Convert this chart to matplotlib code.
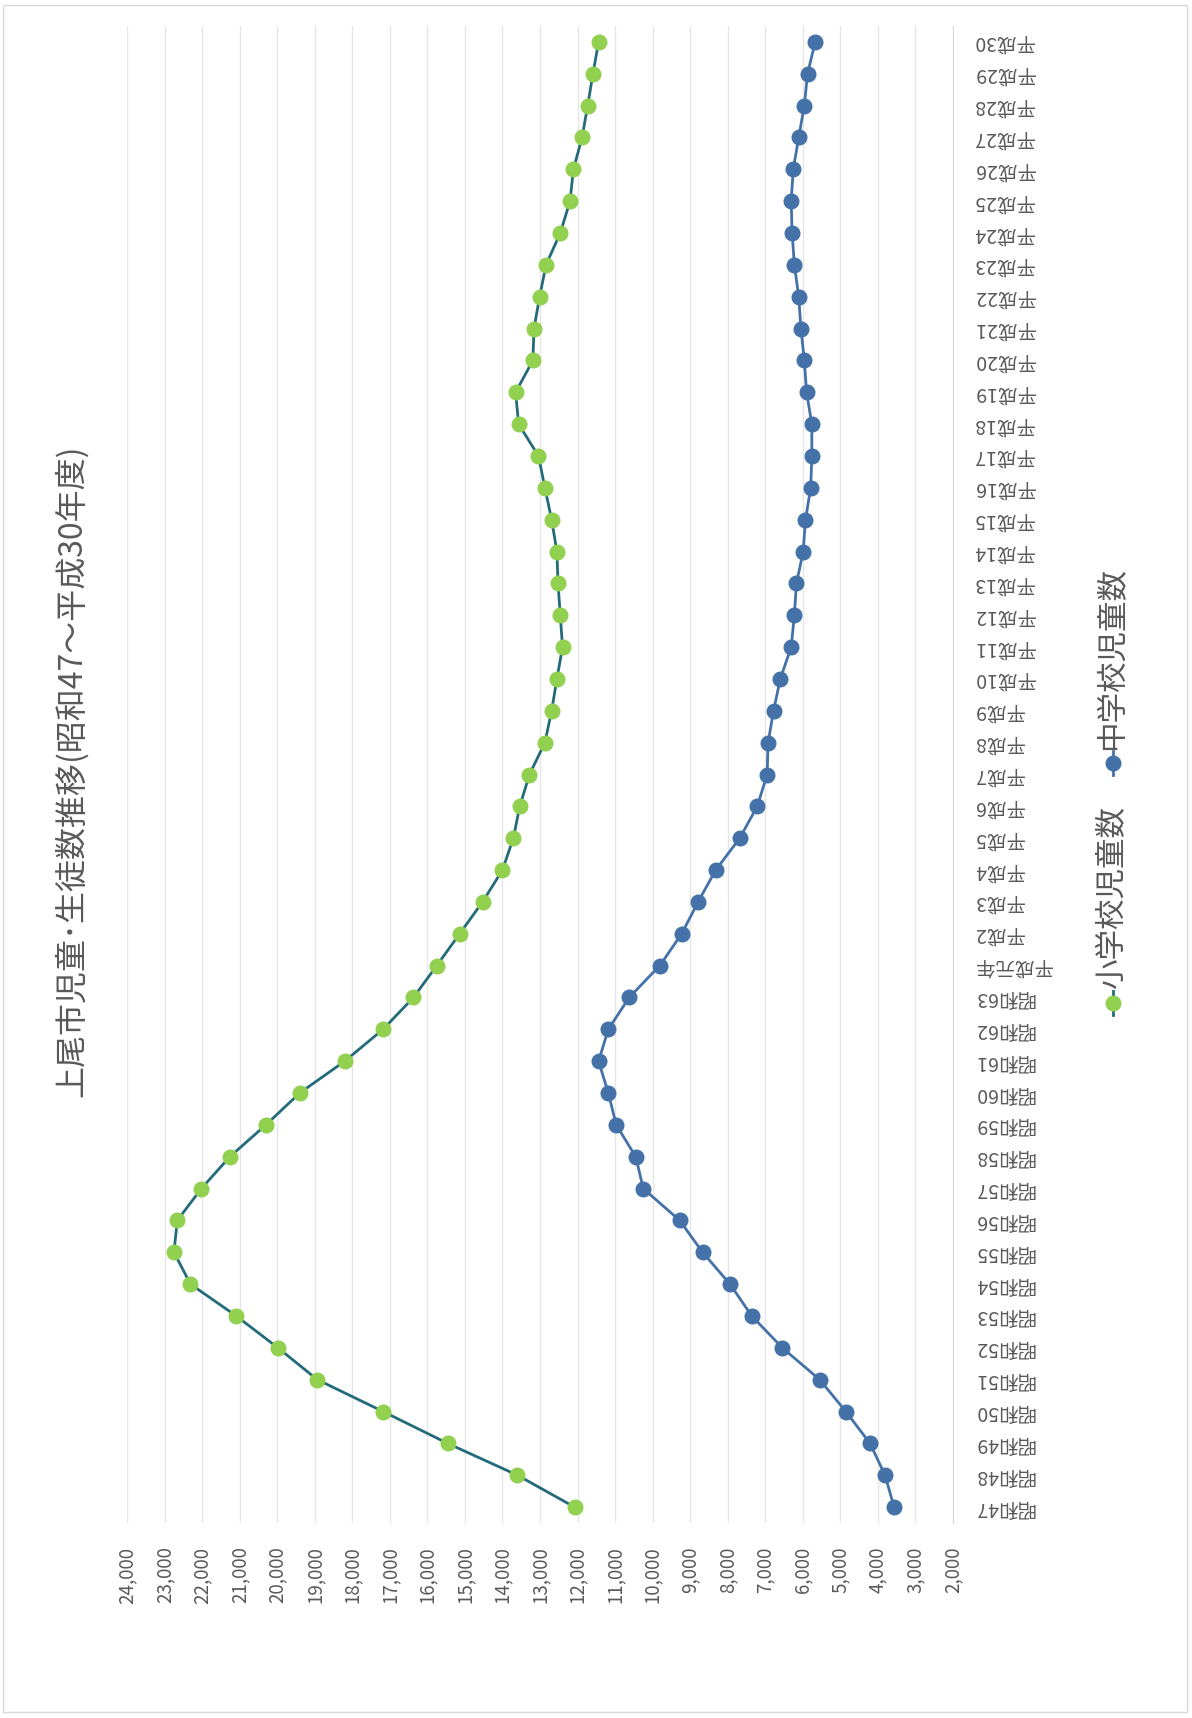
import matplotlib
matplotlib.use("Agg")
import matplotlib.pyplot as plt
from matplotlib.lines import Line2D
from matplotlib.patches import Rectangle
from matplotlib.ticker import FuncFormatter, MultipleLocator

plt.rcParams['font.family'] = ['Noto Sans CJK JP', 'DejaVu Sans']

# 年度
years = ["昭和" + str(n) for n in range(47, 64)] + ["平成元年"] + ["平成" + str(n) for n in range(2, 31)]

# 小学校児童数
elementary = [12080, 13600, 15460, 17180, 18930, 19980, 21090, 22310, 22750, 22660,
              22020, 21260, 20300, 19400, 18200, 17180, 16370,
              15750, 15140, 14530, 14000, 13710, 13540, 13280, 12870, 12690, 12550,
              12400, 12460, 12520, 12550, 12690, 12870, 13040, 13570, 13650, 13190,
              13160, 13010, 12840, 12460, 12200, 12110, 11880, 11730, 11590, 11440]

# 中学校児童数
junior = [3570, 3810, 4210, 4855, 5550, 6545, 7360, 7940, 8670, 9280,
          10250, 10450, 10970, 11180, 11440, 11180, 10625,
          9810, 9225, 8790, 8320, 7680, 7215, 6950, 6925, 6780, 6600,
          6310, 6225, 6170, 5990, 5930, 5790, 5760, 5760, 5900, 5960,
          6050, 6110, 6225, 6285, 6310, 6255, 6110, 5960, 5875, 5670]

title = "上尾市児童･生徒数推移(昭和47～平成30年度)"
labels = ["小学校児童数", "中学校児童数"]

green = "#92D050"
teal = "#236B7A"
blue = "#4472A8"
gray = "#595959"

fig = plt.figure(figsize=(11.92, 17.18), dpi=100)
fig.add_artist(Rectangle((3 / 1192, 6 / 1718), 1184 / 1192, 1707 / 1718, transform=fig.transFigure,
                         fill=False, edgecolor="#d9d9d9", linewidth=1))

ax = fig.add_axes([127 / 1192, (1718 - 1523) / 1718, 826 / 1192, 1497 / 1718])
pos = list(range(len(years)))

# グラフは90度回転した形で描く
ax.plot(elementary, pos, color=teal, linewidth=2, marker="o", markersize=10.5,
        markerfacecolor=green, markeredgecolor=green, zorder=3)
ax.plot(junior, pos, color=blue, linewidth=2, marker="o", markersize=10.5,
        markerfacecolor=blue, markeredgecolor=blue, zorder=3)

ax.set_xlim(24000, 2000)
ax.set_ylim(-0.5, len(years) - 0.5)
ax.xaxis.set_major_locator(MultipleLocator(1000))
ax.xaxis.set_major_formatter(FuncFormatter(lambda v, p: f"{int(v):,}"))
ax.grid(axis="x", color="#e6e6e6", linewidth=1)
ax.set_axisbelow(True)

for s in ["top", "left", "bottom"]:
    ax.spines[s].set_visible(False)
ax.spines["right"].set_color("#d9d9d9")

ax.yaxis.tick_right()
ax.set_yticks(pos)
ax.set_yticklabels(years)
ax.tick_params(axis="y", length=0, pad=15, labelsize=14, labelcolor=gray)
ax.tick_params(axis="x", length=0, pad=17, labelsize=13.5, labelcolor=gray)
for t in ax.get_yticklabels():
    t.set_rotation(180)
    t.set_ha("left")
    t.set_va("center")
for t in ax.get_xticklabels():
    t.set_rotation(90)
    t.set_ha("center")
    t.set_va("top")

fig.text(71 / 1192, 1 - 771 / 1718, title, rotation=90, ha="center", va="center",
         fontsize=23, color=gray)

# 凡例
for (my, ty, lab, fc, lc) in [(1003, 898, labels[0], green, teal), (763, 658, labels[1], blue, blue)]:
    fig.add_artist(Line2D([1113 / 1192, 1113 / 1192], [1 - (my + 12) / 1718, 1 - (my - 12) / 1718],
                          transform=fig.transFigure, color=lc, linewidth=2))
    fig.add_artist(Line2D([1113 / 1192], [1 - my / 1718], transform=fig.transFigure, marker="o",
                          markersize=10.5, markerfacecolor=fc, markeredgecolor=fc))
    fig.text(1113 / 1192, 1 - ty / 1718, lab, rotation=90, ha="center", va="center",
             fontsize=22, color=gray)

fig.savefig("out.png", dpi=100)
